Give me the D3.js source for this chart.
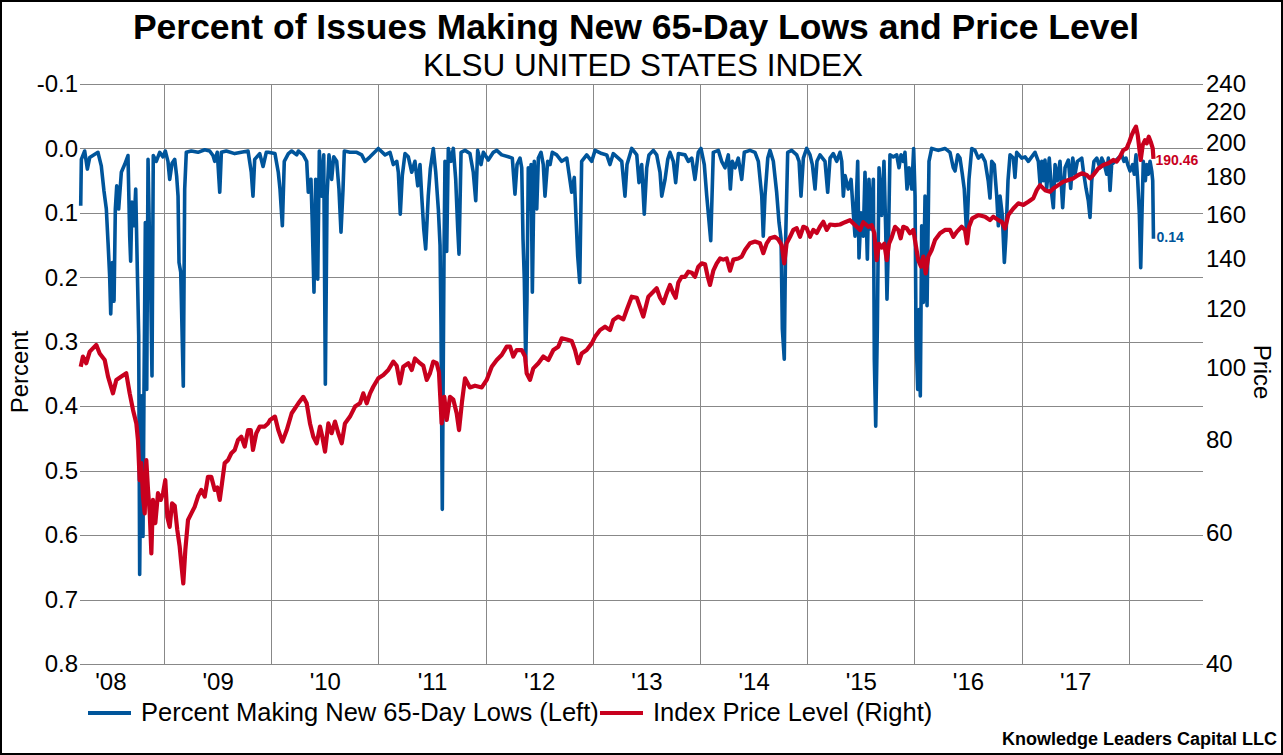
<!DOCTYPE html>
<html>
<head>
<meta charset="utf-8">
<style>
  body { margin: 0; background: #fff; }
  svg { display: block; font-family: "Liberation Sans", Arial, sans-serif; }
  .grid { stroke: #888; stroke-width: 1px; shape-rendering: crispEdges; }
  .lows { fill: none; stroke: #00559b; stroke-width: 3.6px; stroke-linejoin: round; }
  .price { fill: none; stroke: #c8001e; stroke-width: 4.2px; stroke-linejoin: round; }
</style>
<script src="https://cdnjs.cloudflare.com/ajax/libs/d3/7.8.5/d3.min.js"></script>
</head>
<body>
<svg width="1283" height="755"></svg>
<script>
// time is in decimal years
var lowsYear = [2008.223,2008.229,2008.260,2008.285,2008.307,2008.384,2008.415,2008.440,2008.462,2008.478,2008.493,2008.503,2008.518,2008.534,2008.546,2008.559,2008.577,2008.602,2008.633,2008.664,2008.680,2008.689,2008.701,2008.720,2008.736,2008.751,2008.764,2008.773,2008.788,2008.804,2008.813,2008.826,2008.839,2008.851,2008.863,2008.876,2008.888,2008.900,2008.928,2008.960,2008.991,
  2009.012,2009.037,2009.053,2009.075,2009.100,2009.118,2009.131,2009.140,2009.156,2009.168,2009.180,2009.193,2009.208,2009.255,2009.317,2009.380,2009.426,2009.457,2009.473,2009.497,2009.520,2009.535,2009.581,2009.660,2009.721,2009.784,2009.814,2009.830,2009.846,2009.893,2009.924,2009.954,2009.973,
  2010.035,2010.066,2010.082,2010.104,2010.122,2010.160,2010.191,2010.238,2010.253,2010.299,2010.331,2010.346,2010.371,2010.383,2010.399,2010.415,2010.434,2010.449,2010.471,2010.490,2010.505,2010.521,2010.539,2010.564,2010.583,2010.611,2010.632,2010.651,2010.670,2010.682,2010.735,2010.798,2010.844,2010.875,2010.922,2010.999,
  2011.062,2011.108,2011.139,2011.171,2011.186,2011.204,2011.223,2011.248,2011.279,2011.311,2011.341,2011.367,2011.388,2011.404,2011.423,2011.441,2011.465,2011.484,2011.512,2011.535,2011.559,2011.575,2011.584,2011.596,2011.612,2011.621,2011.637,2011.652,2011.677,2011.699,2011.721,2011.740,2011.752,2011.771,2011.808,2011.854,2011.885,2011.908,2011.926,2011.957,2011.979,
  2012.025,2012.072,2012.104,2012.150,2012.212,2012.249,2012.274,2012.293,2012.321,2012.337,2012.349,2012.361,2012.374,2012.386,2012.398,2012.411,2012.424,2012.436,2012.454,2012.477,2012.492,2012.517,2012.538,2012.554,2012.579,2012.601,2012.622,2012.663,2012.710,2012.757,2012.803,2012.827,2012.859,2012.878,2012.896,2012.943,2012.990,
  2013.021,2013.083,2013.130,2013.160,2013.191,2013.238,2013.270,2013.300,2013.319,2013.363,2013.410,2013.431,2013.456,2013.480,2013.503,2013.524,2013.564,2013.596,2013.627,2013.643,2013.674,2013.699,2013.720,2013.751,2013.773,2013.798,2013.860,2013.891,2013.923,2013.953,2013.984,
  2014.009,2014.040,2014.063,2014.077,2014.100,2014.124,2014.171,2014.202,2014.233,2014.264,2014.283,2014.301,2014.327,2014.357,2014.389,2014.413,2014.466,2014.513,2014.544,2014.576,2014.590,2014.606,2014.632,2014.653,2014.684,2014.715,2014.737,2014.756,2014.768,2014.786,2014.799,2014.818,2014.855,2014.902,2014.924,2014.942,2014.964,2014.995,
  2015.026,2015.048,2015.073,2015.091,2015.119,2015.166,2015.191,2015.213,2015.243,2015.275,2015.306,2015.322,2015.337,2015.353,2015.383,2015.409,2015.430,2015.446,2015.471,2015.483,2015.502,2015.523,2015.539,2015.561,2015.576,2015.595,2015.617,2015.626,2015.639,2015.654,2015.670,2015.695,2015.716,2015.732,2015.744,2015.757,2015.772,2015.803,2015.835,2015.856,2015.875,2015.896,2015.912,2015.931,2015.950,2015.975,2015.993,
  2016.006,2016.015,2016.031,2016.043,2016.055,2016.068,2016.083,2016.099,2016.118,2016.136,2016.161,2016.223,2016.285,2016.332,2016.363,2016.379,2016.404,2016.425,2016.447,2016.465,2016.488,2016.509,2016.535,2016.565,2016.596,2016.628,2016.659,2016.689,2016.705,2016.721,2016.745,2016.768,2016.783,2016.799,2016.820,2016.839,2016.854,2016.873,2016.892,2016.923,2016.938,2016.954,
  2017.001,2017.032,2017.063,2017.094,2017.125,2017.156,2017.172,2017.188,2017.202,2017.218,2017.234,2017.258,2017.281,2017.296,2017.312,2017.333,2017.358,2017.383,2017.405,2017.436,2017.458,2017.477,2017.498,2017.520,2017.561,2017.576,2017.601,2017.622,2017.638,2017.654,2017.675,2017.701,2017.731,2017.747,2017.769,2017.794,2017.809,2017.825,2017.840,2017.871,2017.902,2017.934,2017.955,2017.974,2017.990,
  2018.011,2018.036,2018.051,2018.067,2018.083,2018.098,2018.111,2018.123,2018.135,2018.154,2018.167,2018.182,2018.198,2018.214,2018.223,2018.230];

var lowsPct = [0.089,0.017,0.004,0.032,0.014,0.006,0.027,0.066,0.094,0.146,0.198,0.257,0.177,0.237,0.094,0.058,0.094,0.037,0.025,0.011,0.136,0.175,0.083,0.120,0.063,0.187,0.291,0.661,0.384,0.602,0.384,0.115,0.374,0.017,0.125,0.218,0.353,0.011,0.020,0.006,0.013,
  0.004,0.020,0.048,0.023,0.017,0.043,0.074,0.177,0.192,0.280,0.369,0.063,0.006,0.004,0.006,0.002,0.004,0.011,0.020,0.006,0.068,0.006,0.004,0.008,0.006,0.004,0.037,0.074,0.017,0.008,0.028,0.006,0.006,
  0.008,0.037,0.063,0.120,0.020,0.008,0.004,0.010,0.004,0.010,0.020,0.068,0.048,0.115,0.223,0.048,0.203,0.004,0.074,0.010,0.366,0.074,0.010,0.048,0.013,0.020,0.063,0.130,0.063,0.004,0.006,0.006,0.010,0.020,0.013,0.000,
  0.010,0.006,0.025,0.020,0.037,0.102,0.042,0.008,0.013,0.037,0.020,0.058,0.025,0.074,0.125,0.156,0.074,0.032,0.000,0.037,0.094,0.150,0.275,0.560,0.167,0.020,0.160,0.000,0.020,0.000,0.048,0.125,0.164,0.006,0.003,0.008,0.037,0.081,0.003,0.025,0.006,
  0.018,0.006,0.003,0.010,0.013,0.015,0.071,0.025,0.015,0.030,0.141,0.203,0.332,0.234,0.030,0.094,0.025,0.223,0.020,0.094,0.015,0.006,0.025,0.074,0.020,0.025,0.006,0.010,0.020,0.015,0.068,0.045,0.167,0.208,0.020,0.010,0.020,
  0.003,0.008,0.010,0.025,0.008,0.015,0.020,0.074,0.025,0.000,0.010,0.053,0.025,0.102,0.030,0.010,0.003,0.010,0.037,0.074,0.048,0.017,0.006,0.020,0.053,0.008,0.010,0.020,0.015,0.048,0.006,
  0.000,0.025,0.074,0.100,0.143,0.006,0.003,0.020,0.030,0.010,0.063,0.020,0.030,0.015,0.048,0.006,0.003,0.006,0.020,0.074,0.136,0.074,0.015,0.003,0.020,0.068,0.115,0.140,0.280,0.327,0.140,0.006,0.003,0.010,0.020,0.074,0.015,0.000,
  0.010,0.025,0.063,0.020,0.010,0.020,0.068,0.015,0.008,0.020,0.006,0.020,0.074,0.042,0.063,0.048,0.100,0.136,0.020,0.170,0.100,0.136,0.037,0.172,0.048,0.125,0.048,0.327,0.431,0.280,0.030,0.104,0.020,0.125,0.234,0.150,0.010,0.013,0.010,0.030,0.010,0.020,0.006,0.063,0.030,0.063,0.000,
  0.074,0.291,0.374,0.250,0.384,0.120,0.239,0.074,0.244,0.020,0.000,0.003,0.000,0.006,0.030,0.035,0.010,0.015,0.040,0.063,0.136,0.048,0.000,0.003,0.015,0.010,0.020,0.051,0.077,0.020,0.025,0.074,0.120,0.074,0.104,0.177,0.136,0.050,0.010,0.015,0.045,0.006,
  0.015,0.013,0.020,0.013,0.006,0.020,0.055,0.020,0.050,0.018,0.062,0.015,0.071,0.092,0.025,0.050,0.020,0.092,0.030,0.018,0.062,0.015,0.040,0.020,0.015,0.035,0.062,0.081,0.107,0.050,0.020,0.015,0.030,0.015,0.023,0.040,0.015,0.065,0.025,0.020,0.015,0.010,0.020,0.015,0.025,
  0.035,0.025,0.040,0.010,0.050,0.100,0.185,0.100,0.020,0.050,0.025,0.040,0.020,0.035,0.050,0.140];

var priceYear = [2008.223,2008.244,2008.275,2008.307,2008.368,2008.400,2008.447,2008.478,2008.524,2008.555,2008.602,2008.648,2008.680,2008.711,2008.742,2008.757,2008.773,2008.788,2008.804,2008.820,2008.835,2008.851,2008.867,2008.882,2008.897,2008.919,2008.944,2008.969,2008.991,
  2009.012,2009.031,2009.053,2009.075,2009.100,2009.124,2009.146,2009.161,2009.180,2009.199,2009.224,2009.255,2009.286,2009.317,2009.348,2009.380,2009.410,2009.441,2009.473,2009.497,2009.520,2009.541,2009.566,2009.597,2009.628,2009.660,2009.690,2009.721,2009.753,2009.784,2009.809,2009.830,2009.861,2009.893,2009.939,2009.970,2009.989,
  2010.035,2010.066,2010.104,2010.145,2010.191,2010.253,2010.299,2010.331,2010.362,2010.393,2010.424,2010.455,2010.477,2010.502,2010.533,2010.564,2010.595,2010.626,2010.658,2010.688,2010.735,2010.782,2010.828,2010.859,2010.891,2010.922,2010.952,2010.999,
  2011.046,2011.092,2011.139,2011.171,2011.201,2011.232,2011.279,2011.311,2011.341,2011.388,2011.419,2011.451,2011.481,2011.512,2011.544,2011.565,2011.590,2011.615,2011.637,2011.668,2011.699,2011.730,2011.752,2011.780,2011.808,2011.854,2011.901,2011.964,
  2012.010,2012.057,2012.104,2012.150,2012.197,2012.228,2012.258,2012.290,2012.337,2012.368,2012.383,2012.414,2012.445,2012.492,2012.538,2012.585,2012.632,2012.678,2012.710,2012.757,2012.803,2012.834,2012.865,2012.896,2012.943,2012.990,
  2013.021,2013.067,2013.114,2013.160,2013.191,2013.238,2013.285,2013.316,2013.363,2013.410,2013.440,2013.471,2013.518,2013.564,2013.596,2013.627,2013.658,2013.689,2013.720,2013.751,2013.773,2013.798,2013.829,2013.860,2013.891,2013.923,2013.953,2013.984,
  2014.016,2014.047,2014.072,2014.093,2014.124,2014.156,2014.187,2014.217,2014.249,2014.280,2014.311,2014.357,2014.389,2014.420,2014.466,2014.513,2014.560,2014.590,2014.622,2014.653,2014.700,2014.730,2014.762,2014.786,2014.808,2014.840,2014.870,2014.902,2014.933,2014.964,2014.995,
  2015.026,2015.057,2015.089,2015.119,2015.150,2015.182,2015.213,2015.259,2015.306,2015.353,2015.399,2015.446,2015.493,2015.523,2015.570,2015.602,2015.626,2015.648,2015.670,2015.695,2015.719,2015.742,2015.763,2015.788,2015.819,2015.850,2015.872,2015.896,2015.928,2015.959,2015.990,
  2016.015,2016.036,2016.062,2016.083,2016.105,2016.130,2016.161,2016.192,2016.239,2016.285,2016.332,2016.363,2016.395,2016.441,2016.472,2016.491,2016.509,2016.540,2016.596,2016.659,2016.705,2016.736,2016.783,2016.814,2016.845,2016.876,2016.923,2016.969,
  2017.016,2017.063,2017.109,2017.141,2017.172,2017.218,2017.265,2017.296,2017.342,2017.389,2017.436,2017.482,2017.529,2017.561,2017.607,2017.638,2017.669,2017.715,2017.762,2017.809,2017.855,2017.887,2017.918,2017.949,2017.980,
  2018.005,2018.027,2018.049,2018.067,2018.083,2018.098,2018.111,2018.130,2018.151,2018.167,2018.186,2018.204,2018.223,2018.230];

var priceLevel = [100.2,103.4,101.3,105.0,107.2,104.4,102.3,97.2,92.3,96.2,97.2,98.2,92.3,87.7,84.1,79.9,70.6,74.4,67.1,63.7,75.1,68.5,63.7,56.3,66.4,61.8,67.8,66.4,67.8,
  70.6,63.0,61.1,65.7,65.2,60.5,57.5,54.6,51.3,56.9,62.4,63.7,65.0,67.1,68.5,67.1,71.3,71.3,68.5,69.0,66.4,69.9,74.4,75.1,76.7,77.5,79.9,80.7,78.3,82.4,82.4,77.5,81.6,83.3,83.3,84.1,85.0,
  85.9,82.4,79.5,82.4,86.8,89.5,91.3,89.5,84.1,80.7,79.1,83.3,80.7,77.1,84.1,81.6,84.6,81.6,79.1,84.1,85.9,88.6,89.5,92.3,89.5,92.3,94.2,96.7,
  97.7,99.2,101.8,100.5,95.2,100.2,101.3,99.2,102.8,101.3,100.5,96.2,98.2,101.8,101.3,98.5,84.1,91.3,85.0,91.3,90.5,86.8,82.4,90.0,96.7,94.0,94.5,94.0,
  96.2,100.2,102.3,103.9,106.6,106.6,103.4,105.5,105.5,103.4,98.2,96.2,99.7,101.3,103.4,102.3,105.5,106.6,109.4,109.0,108.5,105.5,101.3,104.4,105.5,107.7,
  109.9,112.2,113.4,112.2,115.8,117.0,116.0,119.4,124.4,124.0,120.5,117.0,124.4,126.3,127.7,124.0,121.9,125.7,129.0,125.7,124.0,130.0,132.3,132.3,134.4,134.0,132.3,136.5,
  137.9,137.5,132.3,129.0,134.8,137.9,140.0,139.5,140.0,134.8,139.5,140.0,140.8,143.7,146.7,147.5,146.7,142.3,146.7,149.0,149.7,148.5,145.9,137.9,146.7,149.7,152.9,153.7,149.7,154.4,153.7,
  149.7,152.9,151.5,154.4,156.8,152.9,155.5,155.2,155.5,156.6,157.6,155.2,152.9,156.6,154.4,155.2,151.3,139.3,146.5,144.8,146.5,139.3,146.5,149.4,154.4,152.9,149.0,154.4,153.7,151.3,152.9,
  145.2,139.3,136.5,140.8,133.7,140.8,143.7,148.2,151.3,152.9,152.9,149.7,152.0,154.4,152.9,146.7,154.4,158.5,160.1,159.3,157.6,159.3,157.6,156.8,153.6,160.1,163.4,166.0,
  165.2,166.8,168.6,172.9,175.6,172.9,172.0,173.8,175.6,177.5,178.4,179.3,181.2,182.1,181.2,179.3,181.2,184.9,186.9,187.9,189.8,188.8,191.7,195.7,196.7,
  200.8,205.0,208.2,210.4,205.0,196.7,189.8,198.8,201.8,199.8,203.9,200.8,196.7,190.46];

var yearLabels = ["'08","'09","'10","'11","'12","'13","'14","'15","'16","'17"];
var yearLines = [2009,2010,2011,2012,2013,2014,2015,2016,2017,2018];
var leftTicks = [-0.1,0,0.1,0.2,0.3,0.4,0.5,0.6,0.7,0.8];
var rightTicks = [40,60,80,100,120,140,160,180,200,220,240];

var svg = d3.select("svg"),
	plotL = 80, plotR = 1203, plotT = 84, plotB = 664;

var x = d3.scaleLinear().domain([2008.2164, 2018.692]).range([plotL, plotR]);
var yL = d3.scaleLinear().domain([-0.1, 0.8]).range([plotT, plotB]);
var yR = d3.scaleLog().domain([40, 240]).range([plotB, plotT]);

svg.append("rect").attr("x", 1).attr("y", 1).attr("width", 1281).attr("height", 753)
	.attr("fill", "#fff").attr("stroke", "#000").attr("stroke-width", 2);

// gridlines
svg.append("g").selectAll("line").data(leftTicks).enter().append("line")
	.attr("class", "grid")
	.attr("x1", plotL).attr("x2", plotR)
	.attr("y1", function(d) { return Math.round(yL(d)) + 0.5; })
	.attr("y2", function(d) { return Math.round(yL(d)) + 0.5; });
svg.append("g").selectAll("line").data(yearLines).enter().append("line")
	.attr("class", "grid")
	.attr("y1", plotT).attr("y2", plotB)
	.attr("x1", function(d) { return Math.round(x(d)) + 0.5; })
	.attr("x2", function(d) { return Math.round(x(d)) + 0.5; });

// axes (labels only, no domain lines)
var axL = svg.append("g").attr("transform", "translate(" + (plotL - 2) + ",0)")
	.call(d3.axisLeft(yL).tickValues(leftTicks).tickSize(0).tickPadding(0)
		.tickFormat(function(d) { return d3.format(".1f")(d).replace("\u2212", "-"); }));
var axR = svg.append("g").attr("transform", "translate(" + (plotR + 3) + ",0)")
	.call(d3.axisRight(yR).tickValues(rightTicks).tickSize(0).tickPadding(0)
		.tickFormat(d3.format("d")));
var axB = svg.append("g").attr("transform", "translate(0," + (plotB + 6) + ")")
	.call(d3.axisBottom(x).tickValues(yearLabels.map(function(d, i) { return 2008.5 + i; }))
		.tickSize(0).tickPadding(0)
		.tickFormat(function(d, i) { return yearLabels[i]; }));
[axL, axR, axB].forEach(function(a) {
	a.select(".domain").remove();
	a.selectAll("text").attr("fill", "#000")
		.style("font-family", "'Liberation Sans', Arial, sans-serif").style("font-size", "24px");
});
axB.selectAll("text").attr("dy", "0.85em");

// series
var lowsData = lowsYear.map(function(t, i) { return [t, lowsPct[i]]; });
var priceData = priceYear.map(function(t, i) { return [t, priceLevel[i]]; });

svg.append("path").datum(lowsData).attr("class", "lows")
	.attr("d", d3.line().x(function(d) { return x(d[0]); }).y(function(d) { return yL(d[1]); }));
svg.append("path").datum(priceData).attr("class", "price")
	.attr("d", d3.line().x(function(d) { return x(d[0]); }).y(function(d) { return yR(d[1]); }));

var lastL = lowsData[lowsData.length - 1], lastP = priceData[priceData.length - 1];
svg.append("text").attr("x", x(lastL[0]) + 3).attr("y", yL(lastL[1]) + 3)
	.attr("fill", "#00559b").attr("font-weight", "bold").attr("font-size", "14px")
	.text(d3.format(".2f")(lastL[1]));
svg.append("text").attr("x", x(lastP[0]) + 2).attr("y", yR(lastP[1]) + 6)
	.attr("fill", "#c8001e").attr("font-weight", "bold").attr("font-size", "14px")
	.text(d3.format(".2f")(lastP[1]));

// titles
svg.append("text").attr("x", 636).attr("y", 39).attr("text-anchor", "middle")
	.attr("font-weight", "bold").attr("font-size", "35.5px").text("Percent of Issues Making New 65-Day Lows and Price Level");
svg.append("text").attr("x", 643).attr("y", 76).attr("text-anchor", "middle")
	.attr("font-size", "31.5px").text("KLSU UNITED STATES INDEX");
svg.append("text").attr("transform", "translate(28,372) rotate(-90)").attr("text-anchor", "middle")
	.attr("font-size", "24px").text("Percent");
svg.append("text").attr("transform", "translate(1254,372) rotate(90)").attr("text-anchor", "middle")
	.attr("font-size", "24px").text("Price");

// legend
var legend = [
	{ name: "Percent Making New 65-Day Lows (Left)", cls: "lows", x: 88 },
	{ name: "Index Price Level (Right)", cls: "price", x: 600 }
];
legend.forEach(function(d) {
	svg.append("line").attr("class", d.cls).attr("x1", d.x).attr("x2", d.x + 43)
		.attr("y1", 713).attr("y2", 713).style("stroke-width", "4px");
	svg.append("text").attr("x", d.x + 53).attr("y", 721).attr("font-size", "25.5px").text(d.name);
});

svg.append("text").attr("x", 1277).attr("y", 745).attr("text-anchor", "end")
	.attr("font-weight", "bold").attr("font-size", "18px").text("Knowledge Leaders Capital LLC");
</script>
</body>
</html>
